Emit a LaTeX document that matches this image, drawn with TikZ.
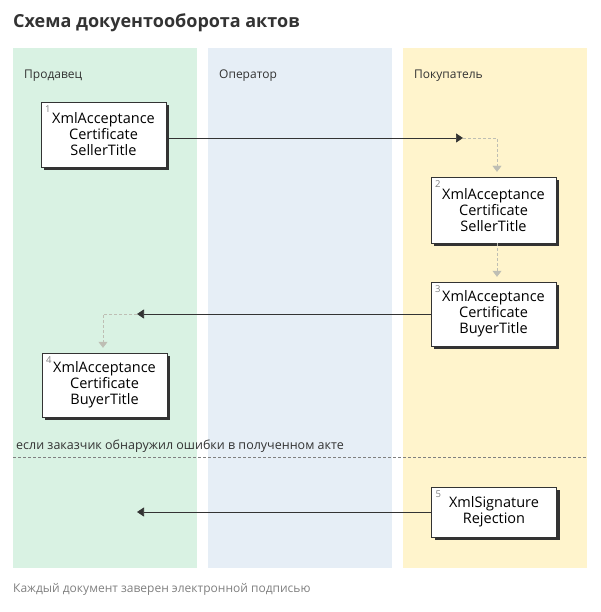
\documentclass[tikz,border=0pt]{standalone}
\usepackage{fontspec}
\setmainfont{Open Sans}
\usepackage{xcolor}
\usetikzlibrary{positioning, arrows.meta, shadows}

\definecolor{sellerbg}{RGB}{217,242,227}
\definecolor{operatorbg}{RGB}{230,238,246}
\definecolor{buyerbg}{RGB}{255,244,204}
\definecolor{inkdark}{RGB}{51,51,51}
\definecolor{flowgray}{RGB}{190,190,180}

\begin{document}
\begin{tikzpicture}[
    x=1pt, y=-1pt,
    lane/.style={anchor=north west, inner sep=0pt, minimum width=184pt, minimum height=520pt},
    lanelabel/.style={anchor=west, inner sep=0pt, font=\fontsize{12}{14}\selectfont, text=inkdark},
    doc/.style={draw=inkdark, fill=white, thin, align=center, inner sep=0pt,
        minimum width=125pt, font=\fontsize{14.5}{16}\selectfont, text=black,
        drop shadow={shadow xshift=3pt, shadow yshift=-3pt, fill=inkdark, opacity=1}},
    num/.style={anchor=north west, inner sep=0pt, font=\fontsize{9.5}{10}\selectfont, text=gray},
    msg/.style={-{Triangle[length=7pt, width=9pt]}, draw=inkdark, semithick},
    hop/.style={-{Triangle[length=6pt, width=9pt]}, draw=flowgray, densely dashed, shorten >=5pt}
]
    \useasboundingbox (0,0) rectangle (600,612);

    % Title
    \node[anchor=west, inner sep=0pt, font=\fontsize{18}{22}\selectfont\bfseries, text=inkdark] (title) at (13,23) {Схема докуентооборота актов};

    % Lanes
    \node[lane, fill=sellerbg] (seller) at (13,48) {};
    \node[lane, fill=operatorbg] (operator) at (208,48) {};
    \node[lane, fill=buyerbg] (buyer) at (403,48) {};
    \node[lanelabel] (sellerlbl) at (24,76) {Продавец};
    \node[lanelabel] (operatorlbl) at (219,76) {Оператор};
    \node[lanelabel] (buyerlbl) at (414,76) {Покупатель};

    % Documents
    \node[doc, minimum height=65pt] (acc1) at (103.5,134.5) {XmlAcceptance\\Certificate\\SellerTitle};
    \node[doc, minimum height=66pt] (acc2) at (493.5,210) {XmlAcceptance\\Certificate\\SellerTitle};
    \node[doc, minimum height=64pt] (acc3) at (493.5,314) {XmlAcceptance\\Certificate\\BuyerTitle};
    \node[doc, minimum height=64pt] (acc4) at (104.5,385) {XmlAcceptance\\Certificate\\BuyerTitle};
    \node[doc, minimum height=50pt] (rej5) at (494,512) {XmlSignature\\Rejection};

    % Numbers
    \node[num] at ([xshift=4pt, yshift=-4pt]acc1.north west) {1};
    \node[num] at ([xshift=4pt, yshift=-4pt]acc2.north west) {2};
    \node[num] at ([xshift=4pt, yshift=-4pt]acc3.north west) {3};
    \node[num] at ([xshift=4pt, yshift=-4pt]acc4.north west) {4};
    \node[num] at ([xshift=4pt, yshift=-4pt]rej5.north west) {5};

    % Messages
    \coordinate (in1) at (463,138);
    \coordinate (in3) at (137,314);
    \coordinate (in5) at (137,512);
    \draw[msg] (acc1.east |- in1) -- (in1);
    \draw[msg] (acc3.west |- in3) -- (in3);
    \draw[msg] (rej5.west) -- (in5);

    % Hand-over inside a lane
    \draw[hop] (in1) -| ([xshift=3.5pt]acc2.north);
    \draw[hop] ([xshift=3.5pt]acc2.south) -- ([xshift=3.5pt]acc3.north);
    \draw[hop] (in3) -| ([xshift=-1.5pt]acc4.north);

    % Error case
    \draw[densely dashed, draw=gray] (13,457) -- (587,457);
    \node[anchor=west, inner sep=0pt, font=\fontsize{12.5}{14}\selectfont, text=inkdark] (errcase) at (16,446) {если заказчик обнаружил ошибки в полученном акте};

    % Footer
    \node[anchor=west, inner sep=0pt, font=\fontsize{12}{14}\selectfont, text=gray] (footer) at (13,589) {Каждый документ заверен электронной подписью};
\end{tikzpicture}
\end{document}
